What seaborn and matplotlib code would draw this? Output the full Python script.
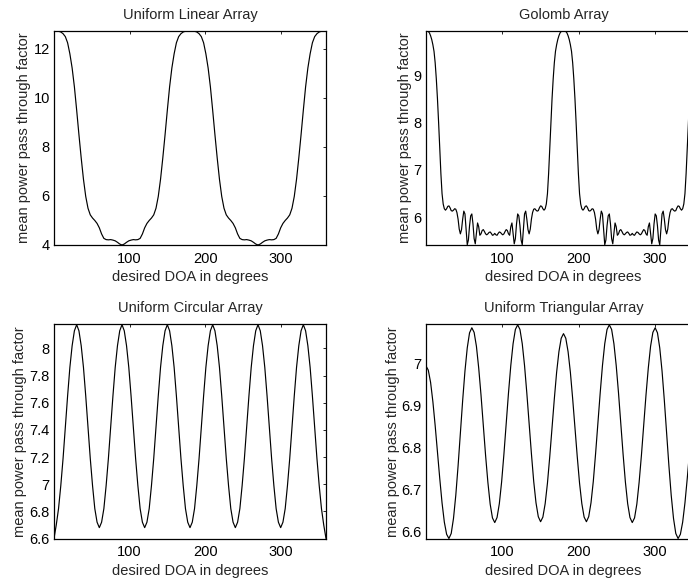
import numpy as np
import pandas as pd
import matplotlib
matplotlib.use("Agg")
import matplotlib.pyplot as plt
import seaborn as sns
from matplotlib.ticker import FuncFormatter

# ---------------- data ----------------
doa_coarse = np.arange(0, 361, 3)        # 0..360 step 3 (121 samples)
doa_fine = np.arange(0, 360.01, 1.5)     # 0..360 step 1.5 (241 samples)

ula_power = [
    12.73, 12.73, 12.72, 12.69, 12.62, 12.5, 12.25, 11.8, 11.22, 10.45, 9.5,
    8.5, 7.55, 6.68, 5.98, 5.5, 5.23, 5.1, 5.0, 4.88, 4.7,
    4.45, 4.27, 4.22, 4.21, 4.22, 4.2, 4.17, 4.11, 4.04, 4.0,
    4.04, 4.11, 4.17, 4.2, 4.22, 4.21, 4.22, 4.27, 4.45, 4.7,
    4.88, 5.0, 5.1, 5.23, 5.5, 5.98, 6.68, 7.55, 8.5, 9.5,
    10.45, 11.22, 11.8, 12.25, 12.5, 12.62, 12.69, 12.72, 12.73, 12.73,
    12.73, 12.72, 12.69, 12.62, 12.5, 12.25, 11.8, 11.22, 10.45, 9.5,
    8.5, 7.55, 6.68, 5.98, 5.5, 5.23, 5.1, 5.0, 4.88, 4.7,
    4.45, 4.27, 4.22, 4.21, 4.22, 4.2, 4.17, 4.11, 4.04, 4.0,
    4.04, 4.11, 4.17, 4.2, 4.22, 4.21, 4.22, 4.27, 4.45, 4.7,
    4.88, 5.0, 5.1, 5.23, 5.5, 5.98, 6.68, 7.55, 8.5, 9.5,
    10.45, 11.22, 11.8, 12.25, 12.5, 12.62, 12.69, 12.72, 12.73, 12.73,
]

golomb_power = [
    # 0 .. 90
    9.93, 9.93, 9.92, 9.89, 9.83, 9.75, 9.64, 9.50, 9.26, 8.92,
    8.50, 8.00, 7.45, 6.92, 6.50, 6.28, 6.18, 6.15, 6.18, 6.23,
    6.24, 6.20, 6.14, 6.13, 6.15, 6.18, 6.17, 6.10, 5.96, 5.75,
    5.65, 5.74, 5.96, 6.13, 6.07, 5.75, 5.42, 5.52, 5.82, 6.03,
    6.07, 5.86, 5.55, 5.44, 5.66, 5.88, 5.80, 5.62, 5.65, 5.72,
    5.74, 5.70, 5.65, 5.63, 5.65, 5.68, 5.69, 5.66, 5.62, 5.63,
    5.66,
    # 91.5 .. 180
    5.63, 5.62, 5.66, 5.69, 5.68, 5.65, 5.63, 5.65, 5.70, 5.74,
    5.72, 5.65, 5.62, 5.80, 5.88, 5.66, 5.44, 5.55, 5.86, 6.07,
    6.03, 5.82, 5.52, 5.42, 5.75, 6.07, 6.13, 5.96, 5.74, 5.65,
    5.75, 5.96, 6.10, 6.17, 6.18, 6.15, 6.13, 6.14, 6.20, 6.24,
    6.23, 6.18, 6.15, 6.18, 6.28, 6.50, 6.92, 7.45, 8.00, 8.50,
    8.92, 9.26, 9.50, 9.64, 9.75, 9.83, 9.89, 9.92, 9.93, 9.93,
    # 181.5 .. 270
    9.93, 9.92, 9.89, 9.83, 9.75, 9.64, 9.50, 9.26, 8.92,
    8.50, 8.00, 7.45, 6.92, 6.50, 6.28, 6.18, 6.15, 6.18, 6.23,
    6.24, 6.20, 6.14, 6.13, 6.15, 6.18, 6.17, 6.10, 5.96, 5.75,
    5.65, 5.74, 5.96, 6.13, 6.07, 5.75, 5.42, 5.52, 5.82, 6.03,
    6.07, 5.86, 5.55, 5.44, 5.66, 5.88, 5.80, 5.62, 5.65, 5.72,
    5.74, 5.70, 5.65, 5.63, 5.65, 5.68, 5.69, 5.66, 5.62, 5.63,
    5.66,
    # 271.5 .. 360
    5.63, 5.62, 5.66, 5.69, 5.68, 5.65, 5.63, 5.65, 5.70, 5.74,
    5.72, 5.65, 5.62, 5.80, 5.88, 5.66, 5.44, 5.55, 5.86, 6.07,
    6.03, 5.82, 5.52, 5.42, 5.75, 6.07, 6.13, 5.96, 5.74, 5.65,
    5.75, 5.96, 6.10, 6.17, 6.18, 6.15, 6.13, 6.14, 6.20, 6.24,
    6.23, 6.18, 6.15, 6.18, 6.28, 6.50, 6.92, 7.45, 8.00, 8.50,
    8.92, 9.26, 9.50, 9.64, 9.75, 9.83, 9.89, 9.92, 9.93, 9.93,
]

uca_power = [
    6.60, 6.70, 6.82, 6.99, 7.19, 7.42, 7.65, 7.86, 8.02, 8.13, 8.175,
    8.13, 8.02, 7.86, 7.65, 7.42, 7.19, 6.99, 6.82, 6.72, 6.68,
    6.72, 6.82, 6.99, 7.19, 7.42, 7.65, 7.86, 8.02, 8.13, 8.175,
    8.13, 8.02, 7.86, 7.65, 7.42, 7.19, 6.99, 6.82, 6.72, 6.68,
    6.72, 6.82, 6.99, 7.19, 7.42, 7.65, 7.86, 8.02, 8.13, 8.175,
    8.13, 8.02, 7.86, 7.65, 7.42, 7.19, 6.99, 6.82, 6.72, 6.68,
    6.72, 6.82, 6.99, 7.19, 7.42, 7.65, 7.86, 8.02, 8.13, 8.175,
    8.13, 8.02, 7.86, 7.65, 7.42, 7.19, 6.99, 6.82, 6.72, 6.68,
    6.72, 6.82, 6.99, 7.19, 7.42, 7.65, 7.86, 8.02, 8.13, 8.175,
    8.13, 8.02, 7.86, 7.65, 7.42, 7.19, 6.99, 6.82, 6.72, 6.68,
    6.72, 6.82, 6.99, 7.19, 7.42, 7.65, 7.86, 8.02, 8.13, 8.175,
    8.13, 8.02, 7.86, 7.65, 7.42, 7.19, 6.99, 6.82, 6.70, 6.60,
]

uta_power = [
    6.995, 6.985, 6.956, 6.910, 6.853, 6.790, 6.727, 6.669, 6.623, 6.594, 6.584,
    6.596, 6.632, 6.687, 6.757, 6.835, 6.913, 6.983, 7.038, 7.074, 7.086,
    7.075, 7.042, 6.990, 6.926, 6.854, 6.782, 6.718, 6.666, 6.633, 6.622,
    6.634, 6.667, 6.719, 6.785, 6.858, 6.931, 6.996, 7.048, 7.082, 7.093,
    7.082, 7.048, 6.996, 6.930, 6.858, 6.786, 6.720, 6.669, 6.636, 6.624,
    6.635, 6.667, 6.716, 6.779, 6.848, 6.917, 6.980, 7.029, 7.061, 7.072,
    7.061, 7.029, 6.980, 6.917, 6.848, 6.779, 6.716, 6.667, 6.635, 6.624,
    6.636, 6.669, 6.720, 6.786, 6.858, 6.930, 6.996, 7.048, 7.082, 7.093,
    7.082, 7.048, 6.996, 6.931, 6.858, 6.785, 6.719, 6.667, 6.634, 6.622,
    6.633, 6.666, 6.718, 6.782, 6.854, 6.926, 6.990, 7.042, 7.075, 7.086,
    7.074, 7.038, 6.983, 6.913, 6.835, 6.757, 6.687, 6.632, 6.596, 6.584,
    6.594, 6.623, 6.669, 6.727, 6.790, 6.853, 6.910, 6.956, 6.985, 6.995,
]

titles = ["Uniform Linear Array", "Golomb Array",
          "Uniform Circular Array", "Uniform Triangular Array"]
x_ticks = [100, 200, 300]
ula_yticks = [4, 6, 8, 10, 12]
golomb_yticks = [6, 7, 8, 9]
uca_yticks = [6.6, 6.8, 7.0, 7.2, 7.4, 7.6, 7.8, 8.0]
uta_yticks = [6.6, 6.7, 6.8, 6.9, 7.0]
xlabel = "desired DOA in degrees"
ylabel = "mean power pass through factor"

# ---------------- style ----------------
sns.set_style("white")
plt.rcParams["font.family"] = ["Liberation Sans", "DejaVu Sans"]
plt.rcParams["font.size"] = 10.5

W, H = 688, 579
fig = plt.figure(figsize=(W / 100, H / 100), dpi=100)
fig.patch.set_facecolor("white")


def px_axes(left, top, width, height):
    return fig.add_axes([left / W, 1 - (top + height) / H, width / W, height / H])


panels = [
    (px_axes(54, 31, 272, 214), doa_coarse, ula_power, ula_yticks, (4.0, 12.73)),
    (px_axes(426, 31, 275, 214), doa_fine, golomb_power, golomb_yticks, (5.415, 9.93)),
    (px_axes(54, 324, 272, 214.5), doa_coarse, uca_power, uca_yticks, (6.6, 8.18)),
    (px_axes(426, 324, 275, 214.5), doa_coarse, uta_power, uta_yticks, (6.584, 7.095)),
]

fmt = FuncFormatter(lambda v, p: f"{v:g}")

for (ax, xs, ys, yt, ylim), title in zip(panels, titles):
    df = pd.DataFrame({"doa": xs, "power": ys})
    sns.lineplot(data=df, x="doa", y="power", ax=ax, color="black",
                 linewidth=0.85, estimator=None, sort=False)
    ax.set_xlim(0, 360)
    ax.set_ylim(*ylim)
    ax.set_xticks(x_ticks)
    ax.set_yticks(yt)
    ax.yaxis.set_major_formatter(fmt)
    ax.set_title(title, fontsize=10.5, pad=8.5)
    ax.set_xlabel(xlabel, fontsize=10.5, labelpad=3)
    ax.set_ylabel(ylabel, fontsize=10.5, labelpad=1.5)
    ax.tick_params(direction="in", length=2.5, width=0.6, top=True, right=True,
                   labelsize=10.5, colors="black")
    ax.tick_params(axis="x", pad=5)
    ax.tick_params(axis="y", pad=3)
    for s in ax.spines.values():
        s.set_visible(True)
        s.set_color("black")
        s.set_linewidth(0.9)
    ax.set_facecolor("white")

fig.savefig("out.png", dpi=100, facecolor="white")
